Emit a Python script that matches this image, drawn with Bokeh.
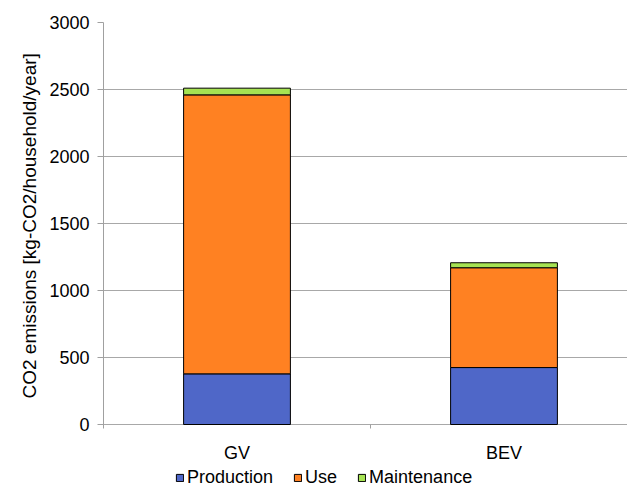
from bokeh.plotting import figure
from bokeh.models import ColumnDataSource, Range1d, FixedTicker, Legend, LegendItem, Title
from bokeh.core.properties import value
from bokeh.embed import file_html
from bokeh.resources import INLINE

# Annual CO2 emissions per household, split by life-cycle stage
categories = ["GV", "BEV"]
stages = ["Production", "Use", "Maintenance"]
production = [378, 425]
use = [2082, 745]
maintenance = [50, 37]
y_ticks = [0, 500, 1000, 1500, 2000, 2500, 3000]
y_label = "CO2 emissions [kg-CO2/household/year]"

colors = ["#4F67C8", "#FF8122", "#A6E352"]
FONT = "Liberation Sans"
AXIS_GREY = "#a0a0a0"

# plot area: 402 px for 0..3000, plus 62 px below zero for labels and legend
PX_PER_UNIT = 402 / 3000
Y_BOTTOM = -62 / PX_PER_UNIT
TICK_LEN = 4 / PX_PER_UNIT

x_pos = [i + 0.5 for i in range(len(categories))]
source = ColumnDataSource(dict(x=x_pos, Production=production, Use=use,
                               Maintenance=maintenance))
label_src = ColumnDataSource(dict(x=x_pos, y=[0] * len(categories), text=categories))

p = figure(frame_width=524, frame_height=464,
           min_border_left=103, min_border_top=22, min_border_right=0,
           min_border_bottom=0,
           x_range=Range1d(0, 524 / 267), y_range=Range1d(Y_BOTTOM, 3000),
           output_backend="svg", toolbar_location=None,
           background_fill_color="white", border_fill_color="white")
p.outline_line_color = None
p.xaxis.visible = False

renderers = p.vbar_stack(stages, x="x", width=0.4, source=source,
                         fill_color=colors, line_color="black", line_width=1)

# horizontal grid (the zero line doubles as the category axis line)
p.xgrid.visible = False
p.ygrid.ticker = FixedTicker(ticks=y_ticks, minor_ticks=[])
p.ygrid.grid_line_color = "#a8a8a8"
p.ygrid.grid_line_width = 1

# divider tick between the two categories
p.segment(x0=[1.0], x1=[1.0], y0=[0], y1=[-TICK_LEN], line_color=AXIS_GREY, line_width=1)

# category names under the bars
p.text(x="x", y="y", text="text", source=label_src, text_align="center",
       text_baseline="alphabetic", y_offset=28, text_font=value(FONT),
       text_font_size="18px", text_color="black")

# y axis
p.yaxis.ticker = FixedTicker(ticks=y_ticks, minor_ticks=[])
p.yaxis.bounds = (-TICK_LEN, 3000)
p.yaxis.major_label_text_font = FONT
p.yaxis.major_label_text_font_size = "18px"
p.yaxis.major_label_text_color = "black"
p.yaxis.major_label_standoff = 8
p.yaxis.major_tick_out = 6
p.yaxis.major_tick_in = 0
p.yaxis.major_tick_line_color = AXIS_GREY
p.yaxis.axis_line_color = AXIS_GREY

# y axis title, centred on the 0..3000 span rather than the whole plot area
p.add_layout(Title(text=y_label, align="left", offset=88, standoff=14,
                   text_font=FONT, text_font_size="19px",
                   text_font_style="normal", text_color="black"), "left")

legend = Legend(items=[LegendItem(label=s, renderers=[r]) for s, r in zip(stages, renderers)],
                orientation="horizontal", location=(72, -2),
                label_text_font=FONT, label_text_font_size="18px",
                label_text_color="black",
                glyph_width=9, glyph_height=9, label_standoff=3, spacing=20,
                padding=0, margin=0, label_height=21,
                background_fill_alpha=0, border_line_color=None)
p.add_layout(legend, "center")

open("out.html", "w").write(file_html(p, INLINE))
